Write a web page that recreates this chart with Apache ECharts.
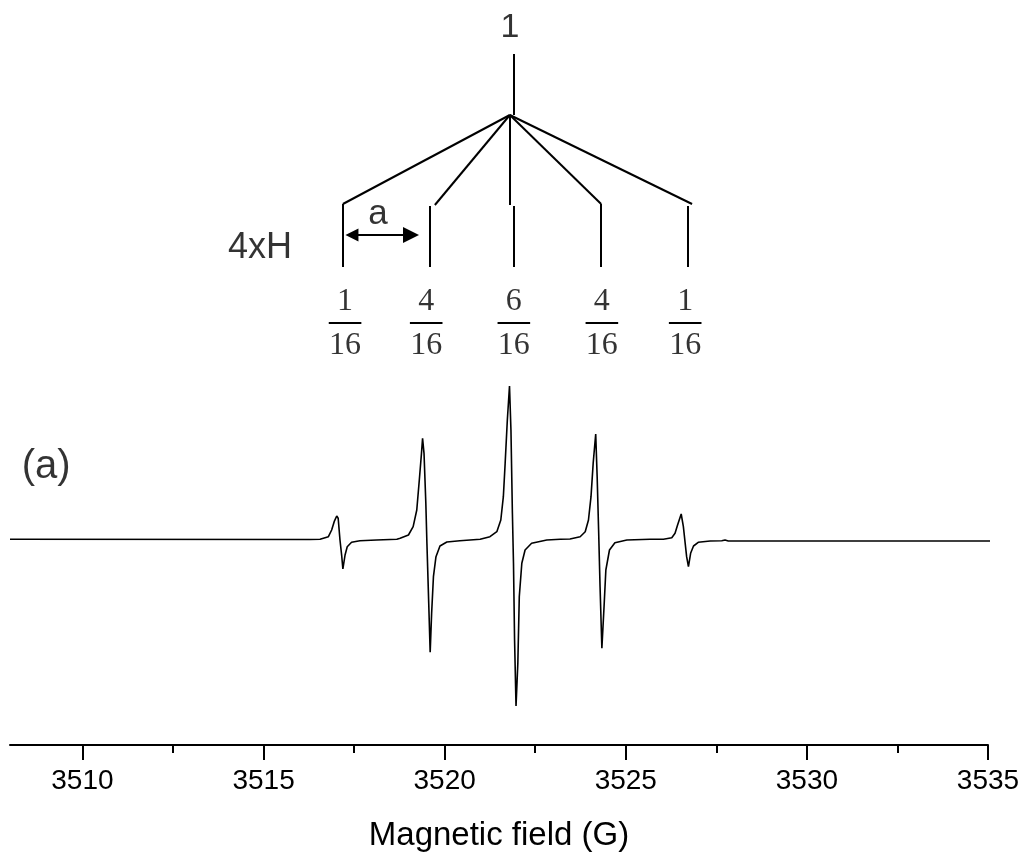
<!DOCTYPE html>
<html>
<head>
<meta charset="utf-8">
<script src="https://cdn.jsdelivr.net/npm/echarts@6/dist/echarts.min.js"></script>
<style>
    html, body {margin: 0; padding: 0; background: #fff;}
    #chart {width: 1027px; height: 858px;}
</style>
</head>
<body>
<div id="chart"></div>
<script>
// EPR spectrum, field in G, signal in arbitrary units
const fieldG = [
    3508.00, 3516.28, 3516.56, 3516.79, 3516.88, 3516.95, 3517.02, 3517.06, 3517.11, 3517.16,
    3517.19, 3517.25, 3517.31, 3517.43, 3517.66, 3518.12, 3518.68,
    3518.77, 3519.00, 3519.13, 3519.23, 3519.30, 3519.36, 3519.39, 3519.43, 3519.48, 3519.51,
    3519.56, 3519.60, 3519.64, 3519.69, 3519.76, 3519.87, 3520.06, 3520.42,
    3520.98, 3521.25, 3521.44, 3521.55, 3521.62, 3521.67, 3521.73, 3521.79, 3521.83, 3521.87,
    3521.90, 3521.93, 3521.97, 3522.02, 3522.06, 3522.13, 3522.22, 3522.40, 3522.82, 3523.19,
    3523.46, 3523.74, 3523.88, 3523.97, 3524.04, 3524.10, 3524.17, 3524.21, 3524.25, 3524.29,
    3524.34, 3524.40, 3524.45, 3524.55, 3524.70, 3525.03, 3525.67,
    3526.04, 3526.27, 3526.36, 3526.43, 3526.53, 3526.59, 3526.64, 3526.68, 3526.73, 3526.79,
    3526.87, 3527.00, 3527.33, 3527.65, 3527.74, 3527.83, 3535.14
];
const signal = [
    0.7, 0.5, 0.7, 3.3, 10, 18.3, 24, 21.7, 0, -16.7,
    -29, -15, -6.7, -2.3, -0.7, 0, 0.7,
    1.7, 5, 13.3, 30, 60, 86.7, 101.7, 86.7, 36.7, -3.3,
    -63.3, -112.3, -73.3, -36.7, -16.7, -6, -2, -0.7,
    0.7, 3.3, 8.3, 20, 43.3, 76.7, 120, 154, 110, 26.7,
    -23.3, -100, -166, -123.3, -56.7, -23.3, -10, -3.3, 0, 0.7,
    1, 3.3, 8.3, 20, 43.3, 76.7, 106, 63.3, 10, -46.7,
    -108.3, -66.7, -30, -10, -2.7, 0, 0.7,
    0.7, 2.3, 6.7, 15, 26, 13.3, -3.3, -16.7, -26.7, -13.3,
    -6, -2.3, -1, -0.7, 0, -1, -1
];

// axis ticks
const majorTicks = [3510, 3515, 3520, 3525, 3530, 3535];
const minorTicks = [3512.5, 3517.5, 3522.5, 3527.5, 3532.5];

// splitting tree (4 equivalent H -> 1:4:6:4:1)
const parentStick = [[3521.91, 486], [3521.91, 425]];
const treeApex = [3521.80, 425];
const branchEnds = [[3517.19, 336], [3519.73, 335], [3521.80, 335], [3524.32, 336], [3526.83, 336]];
const childField = [3517.19, 3519.60, 3521.91, 3524.32, 3526.72];
const childTop = [336, 334, 334, 336, 334];
const childBottom = 273;

// intensity ratios
const fractionField = [3517.25, 3519.49, 3521.91, 3524.34, 3526.64];
const numerators = ['1', '4', '6', '4', '1'];
const denominator = '16';
const numeratorLevel = 238;
const barLevel = 217;
const denominatorLevel = 194;
const barHalfWidth = 0.45;

// coupling constant arrow
const arrowField = [3517.44, 3519.07];
const arrowLevel = 305;

// free text annotations
const noteText = ['1', 'a', '4xH', '(a)'];
const noteField = [3521.80, 3518.16, 3514.90, 3509.00];
const noteLevel = [512, 326, 292, 73];

const noteSize = {'1': 34, 'a': 35, '4xH': 36, '(a)': 40};

const chart = echarts.init(document.getElementById('chart'));

let segments = [];
segments.push({coords: parentStick});
branchEnds.forEach(end => segments.push({coords: [treeApex, end]}));
childField.forEach((f, i) => segments.push({coords: [[f, childTop[i]], [f, childBottom]]}));
fractionField.forEach(f => segments.push({coords: [[f - barHalfWidth, barLevel], [f + barHalfWidth, barLevel]]}));

const textSeries = (items, font, size) => ({
    type: 'scatter',
    silent: true,
    symbolSize: 1,
    itemStyle: {color: 'rgba(0,0,0,0)'},
    clip: false,
    data: items.map(it => ({
        value: [it.x, it.y],
        label: {
            show: true,
            position: 'inside',
            formatter: it.text,
            color: '#000',
            fontFamily: font,
            fontSize: it.size || size,
            align: 'center',
            verticalAlign: 'middle'
        }
    }))
});

const option = {
    animation: false,
    backgroundColor: '#fff',
    grid: {left: 10, right: 39, top: 20, bottom: 113},
    xAxis: [{
        type: 'value',
        min: 3508,
        max: 3535,
        position: 'bottom',
        splitLine: {show: false},
        axisLine: {onZero: false, lineStyle: {color: '#000', width: 2}},
        axisTick: {
            show: true,
            inside: false,
            length: 15,
            customValues: majorTicks,
            lineStyle: {color: '#000', width: 2}
        },
        axisLabel: {
            customValues: majorTicks,
            formatter: v => String(v),
            color: '#000',
            fontFamily: 'Liberation Sans',
            fontSize: 28,
            margin: 22
        },
        name: 'Magnetic field (G)',
        nameLocation: 'middle',
        nameGap: 74,
        nameTextStyle: {color: '#000', fontFamily: 'Liberation Sans', fontSize: 33}
    }, {
        type: 'value',
        min: 3508,
        max: 3535,
        position: 'bottom',
        offset: 0,
        gridIndex: 0,
        splitLine: {show: false},
        axisLine: {show: false, onZero: false},
        axisLabel: {show: false},
        axisTick: {
            show: true,
            length: 8,
            customValues: minorTicks,
            lineStyle: {color: '#000', width: 2}
        }
    }],
    yAxis: {
        type: 'value',
        min: -205,
        max: 520,
        show: false,
        splitLine: {show: false}
    },
    series: [
        {
            type: 'line',
            silent: true,
            showSymbol: false,
            symbol: 'none',
            clip: false,
            lineStyle: {color: '#000', width: 1.6},
            data: fieldG.map((f, i) => [f, signal[i]])
        },
        {
            type: 'lines',
            coordinateSystem: 'cartesian2d',
            silent: true,
            lineStyle: {color: '#000', width: 2, opacity: 1},
            data: segments
        },
        {
            type: 'lines',
            coordinateSystem: 'cartesian2d',
            silent: true,
            symbol: ['triangle', 'triangle'],
            symbolSize: [13, 16],
            lineStyle: {color: '#000', width: 2, opacity: 1},
            itemStyle: {color: '#000'},
            data: [{coords: [[arrowField[0], arrowLevel], [arrowField[1], arrowLevel]]}]
        },
        textSeries(noteText.map((t, i) => ({text: t, x: noteField[i], y: noteLevel[i], size: noteSize[t]})), 'Liberation Sans', 34),
        textSeries(numerators.map((n, i) => ({text: n, x: fractionField[i], y: numeratorLevel}))
            .concat(fractionField.map(f => ({text: denominator, x: f, y: denominatorLevel}))), 'Liberation Serif', 32)
    ]
};

chart.setOption(option);
</script>
</body>
</html>
